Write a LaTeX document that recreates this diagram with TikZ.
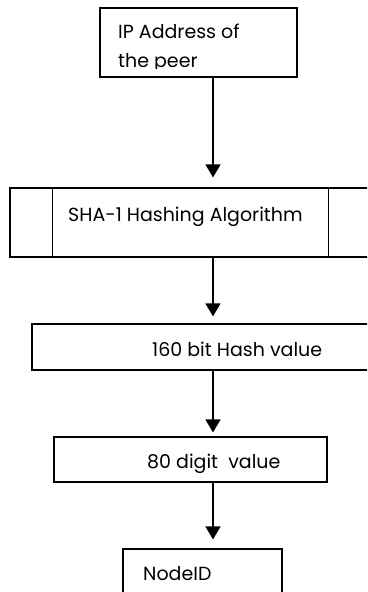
\documentclass[tikz,border=0pt]{standalone}
\usepackage{fontspec}
\setmainfont{Poppins}
\usetikzlibrary{arrows.meta}
\begin{document}
\begin{tikzpicture}[x=1pt,y=-1pt,
  box/.style={draw, line width=1.2pt, inner sep=0pt},
  txt/.style={anchor=base west, inner sep=0pt, font=\fontsize{19}{22}\selectfont},
  flow/.style={line width=1.5pt, -{Triangle[width=15pt,length=13pt]}}]
\useasboundingbox (0,0) rectangle (367,592);
\clip (0,0) rectangle (367,592);
\node[box, minimum width=197pt, minimum height=69pt] (b1) at (198.5,42.5) {};
\node[box, minimum width=361pt, minimum height=69pt] (b2) at (190.5,222.5) {};
\node[box, minimum width=368pt, minimum height=46pt] (b3) at (216,347) {};
\node[box, minimum width=273pt, minimum height=45pt] (b4) at (190.5,459.5) {};
\node[box, minimum width=159pt, minimum height=71pt] (b5) at (202.5,584.5) {};
\draw[line width=1.2pt] ([xshift=43pt]b2.north west) -- ([xshift=43pt]b2.south west);
\draw[line width=1.2pt] ([xshift=-43pt]b2.north east) -- ([xshift=-43pt]b2.south east);
\begin{scope}
\clip (100,8) rectangle (297,68);
\node[txt] (t1a) at (118,38) {IP Address of};
\node[txt] (t1b) at (118,67) {the peer};
\end{scope}
\node[txt] (t2) at (68,221) {SHA-1 Hashing Algorithm};
\node[txt] (t3) at (152,356) {160 bit Hash value};
\node[txt] (t4) at (147,468) {80 digit\ \ value};
\node[txt] (t5) at (143,580) {NodeID};
\coordinate (ax) at (213,0);
\draw[flow] (b1.south -| ax) -- ([yshift=10pt]b2.north -| ax);
\draw[flow] (b2.south -| ax) -- ([yshift=7pt]b3.north -| ax);
\draw[flow] (b3.south -| ax) -- ([yshift=4pt]b4.north -| ax);
\draw[flow] (b4.south -| ax) -- ([yshift=9pt]b5.north -| ax);
\end{tikzpicture}
\end{document}
